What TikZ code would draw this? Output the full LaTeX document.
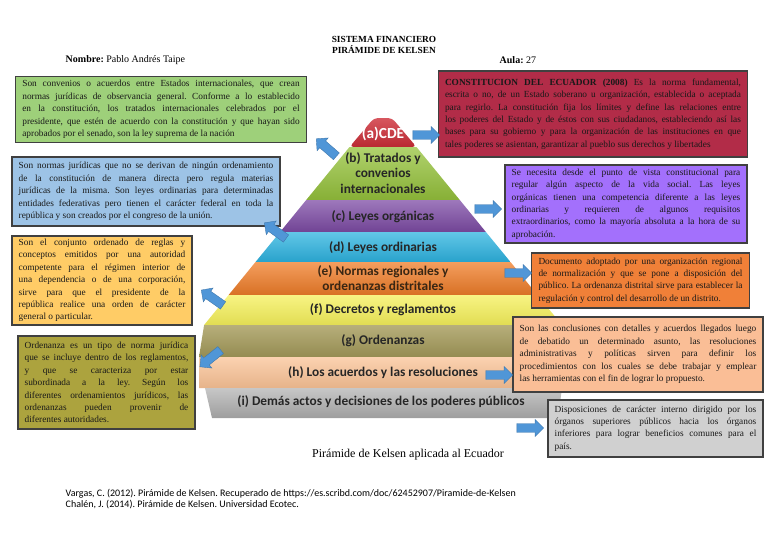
\documentclass[tikz,border=0pt]{standalone}
\usepackage{fontspec}
\setmainfont{Liberation Serif}
\newfontfamily\pyrfont{Carlito}
\usetikzlibrary{shapes.arrows}

\definecolor{boxgreen}{RGB}{158,208,122}
\definecolor{boxred}{RGB}{178,44,72}
\definecolor{boxblue}{RGB}{157,195,230}
\definecolor{boxpurple}{RGB}{163,112,252}
\definecolor{boxyellow}{RGB}{255,204,102}
\definecolor{boxorange}{RGB}{240,128,56}
\definecolor{boxolive}{RGB}{172,163,62}
\definecolor{boxpeach}{RGB}{250,190,150}
\definecolor{boxgray}{RGB}{208,208,208}
\definecolor{lvA}{RGB}{205,45,55}
\definecolor{lvB}{RGB}{150,195,60}
\definecolor{lvC}{RGB}{125,75,165}
\definecolor{lvD}{RGB}{45,180,225}
\definecolor{lvE}{RGB}{240,125,40}
\definecolor{lvF}{RGB}{245,240,90}
\definecolor{lvG}{RGB}{165,155,90}
\definecolor{lvH}{RGB}{250,195,150}
\definecolor{lvI}{RGB}{175,175,175}
\definecolor{arrowblue}{RGB}{80,150,215}

\tolerance=10000
\hyphenpenalty=10000
\frenchspacing

\begin{document}
\begin{tikzpicture}
        [x=0.75pt, y=-0.75pt,
         info_box/.style={draw=black!75, line width=0.9pt, align=justify, inner xsep=5pt, inner ysep=2pt, font=\fontsize{7}{9.3}\selectfont, text=black!90},
         level_label/.style={font=\pyrfont\bfseries\fontsize{10}{11.4}\selectfont, text=black!85, align=center},
         block_arrow/.style={single arrow, fill=arrowblue, draw=arrowblue!80!black, line width=0.3pt, inner sep=3.2pt, single arrow head extend=3pt, minimum height=20pt},
         head_text/.style={font=\fontsize{7.5}{9}\selectfont}]
            \useasboundingbox (0,0) rectangle (768,543);
            \node[head_text, font=\bfseries\fontsize{7}{7.6}\selectfont, align=center] (titulo) at (384,45) {SISTEMA FINANCIERO\\PIRÁMIDE DE KELSEN};
            \node[head_text, anchor=west] (nombre) at (61,60) {\textbf{Nombre:} Pablo Andrés Taipe};
            \node[head_text, anchor=west] (aula) at (495,60) {\textbf{Aula:} 27};
            \shade[top color=lvA!80!white, bottom color=lvA!90!black, rounded corners=3pt] (374,118) -- (392,118) -- (416.5,147) -- (349.5,147) -- cycle;
            \shade[top color=lvB!75!white, bottom color=lvB!90!black] (349.5,147) -- (416.5,147) -- (459.8,200) -- (306.2,200) -- cycle;
            \shade[top color=lvC!75!white, bottom color=lvC!90!black] (306.2,200) -- (459.8,200) -- (485.9,232) -- (280.1,232) -- cycle;
            \shade[top color=lvD!75!white, bottom color=lvD!90!black] (280.1,232) -- (485.9,232) -- (510.5,262) -- (255.5,262) -- cycle;
            \shade[top color=lvE!75!white, bottom color=lvE!90!black] (255.5,262) -- (510.5,262) -- (537.4,295) -- (228.6,295) -- cycle;
            \shade[top color=lvF!75!white, bottom color=lvF!92!black] (228.6,295) -- (537.4,295) -- (561.9,325) -- (204.1,325) -- cycle;
            \shade[top color=lvG!80!white, bottom color=lvG!90!black] (204.1,325) -- (561.9,325) -- (560,357) -- (199,357) -- cycle;
            \shade[top color=lvH!75!white, bottom color=lvH!92!black] (199,357) -- (560,357) -- (562,388) -- (199,388) -- cycle;
            \shade[top color=lvI!70!white, bottom color=lvI!90!black] (205,388) -- (562,388) -- (558,418) -- (212,418) -- cycle;
            \node[level_label, text=white, font=\pyrfont\bfseries\fontsize{11.5}{12}\selectfont] (lab_a) at (383,134) {(a)CDE};
            \node[level_label] (lab_b) at (383,173) {(b) Tratados y\\convenios\\internacionales};
            \node[level_label] (lab_c) at (383,217) {(c) Leyes orgánicas};
            \node[level_label] (lab_d) at (383,248) {(d) Leyes ordinarias};
            \node[level_label, text=black!70!brown] (lab_e) at (383,278) {(e) Normas regionales y\\ordenanzas distritales};
            \node[level_label] (lab_f) at (383,310) {(f) Decretos y reglamentos};
            \node[level_label] (lab_g) at (383,341) {(g) Ordenanzas};
            \node[level_label] (lab_h) at (383,373) {(h) Los acuerdos y las resoluciones};
            \node[level_label] (lab_i) at (381,402) {(i) Demás actos y decisiones de los poderes públicos};
            \node[info_box, fill=boxgreen, text width=208pt, minimum height=50pt] (txt_b) at (161,109.5) {Son convenios o acuerdos entre Estados internacionales, que crean\linebreak normas jurídicas de observancia general. Conforme a lo establecido\linebreak en la constitución, los tratados internacionales celebrados por el\linebreak presidente, que estén de acuerdo con la constitución y que hayan sido\linebreak aprobados por el senado, son la ley suprema de la nación};
            \node[info_box, fill=boxred, text width=222pt, minimum height=64.5pt] (txt_a) at (593,114) {{\bfseries CONSTITUCION DEL ECUADOR (2008)} Es la norma fundamental,\linebreak escrita o no, de un Estado soberano u organización, establecida o aceptada\linebreak para regirlo. La constitución fija los límites y define las relaciones entre\linebreak los poderes del Estado y de éstos con sus ciudadanos, estableciendo así las\linebreak bases para su gobierno y para la organización de las instituciones en que\linebreak tales poderes se asientan, garantizar al pueblo sus derechos y libertades};
            \node[info_box, fill=boxblue, text width=191pt, minimum height=51.75pt] (txt_d) at (146,191.5) {Son normas jurídicas que no se derivan de ningún ordenamiento\linebreak de la constitución de manera directa pero regula materias\linebreak jurídicas de la misma. Son leyes ordinarias para determinadas\linebreak entidades federativas pero tienen el carácter federal en toda la\linebreak república y son creados por el congreso de la unión.};
            \node[info_box, fill=boxpurple, text width=171.5pt, minimum height=58.5pt] (txt_c) at (626,204) {Se necesita desde el punto de vista constitucional para\linebreak regular algún aspecto de la vida social. Las leyes\linebreak orgánicas tienen una competencia diferente a las leyes\linebreak ordinarias y requieren de algunos requisitos\linebreak extraordinarios, como la mayoría absoluta a la hora de su\linebreak aprobación.};
            \node[info_box, fill=boxyellow, text width=125pt, minimum height=66.75pt] (txt_f) at (102,280.5) {Son el conjunto ordenado de reglas y\linebreak conceptos emitidos por una autoridad\linebreak competente para el régimen interior de\linebreak una dependencia o de una corporación,\linebreak sirve para que el presidente de la\linebreak república realice una orden de carácter\linebreak general o particular.};
            \node[info_box, fill=boxorange, text width=153pt, minimum height=41.25pt] (txt_e) at (640.5,280.5) {Documento adoptado por una organización regional\linebreak de normalización y que se pone a disposición del\linebreak público. La ordenanza distrital sirve para establecer la\linebreak regulación y control del desarrollo de un distrito.};
            \node[info_box, fill=boxolive, text width=122.75pt, minimum height=69.75pt] (txt_g) at (106.5,382.5) {Ordenanza es un tipo de norma jurídica\linebreak que se incluye dentro de los reglamentos,\linebreak y que se caracteriza por estar\linebreak subordinada a la ley. Según los\linebreak diferentes ordenamientos jurídicos, las\linebreak ordenanzas pueden provenir de\linebreak diferentes autoridades.};
            \node[info_box, fill=boxpeach, text width=177.5pt, minimum height=56.25pt] (txt_h) at (638,354.5) {Son las conclusiones con detalles y acuerdos llegados luego\linebreak de debatido un determinado asunto, las resoluciones\linebreak administrativas y políticas sirven para definir los\linebreak procedimientos con los cuales se debe trabajar y emplear\linebreak las herramientas con el fin de lograr lo propuesto.};
            \node[info_box, fill=boxgray, text width=151.25pt, minimum height=42.75pt] (txt_i) at (655.5,428.5) {Disposiciones de carácter interno dirigido por los\linebreak órganos superiores públicos hacia los órganos\linebreak inferiores para lograr beneficios comunes para el\linebreak país.};
            \node[block_arrow, rotate=139] (flecha_b) at (328,149) {};
            \node[block_arrow] (flecha_a) at (424,135) {};
            \node[block_arrow, rotate=144] (flecha_d) at (277,232) {};
            \node[block_arrow] (flecha_c) at (486,209) {};
            \node[block_arrow, rotate=145] (flecha_f) at (214,299) {};
            \node[block_arrow] (flecha_e) at (516,273) {};
            \node[block_arrow, rotate=219] (flecha_g) at (212,357) {};
            \node[block_arrow] (flecha_h) at (497,375) {};
            \node[block_arrow] (flecha_i) at (528,428) {};
            \node[font=\fontsize{9}{11}\selectfont] (pie) at (408,455) {Pirámide de Kelsen aplicada al Ecuador};
            \node[anchor=west, font=\pyrfont\fontsize{7.5}{9}\selectfont] (ref_vargas) at (61,494) {Vargas, C. (2012). Pirámide de Kelsen. Recuperado de https://es.scribd.com/doc/62452907/Piramide-de-Kelsen};
            \node[anchor=west, font=\pyrfont\fontsize{7.5}{9}\selectfont] (ref_chalen) at (61,505) {Chalén, J. (2014). Pirámide de Kelsen. Universidad Ecotec.};
        \end{tikzpicture}
\end{document}
